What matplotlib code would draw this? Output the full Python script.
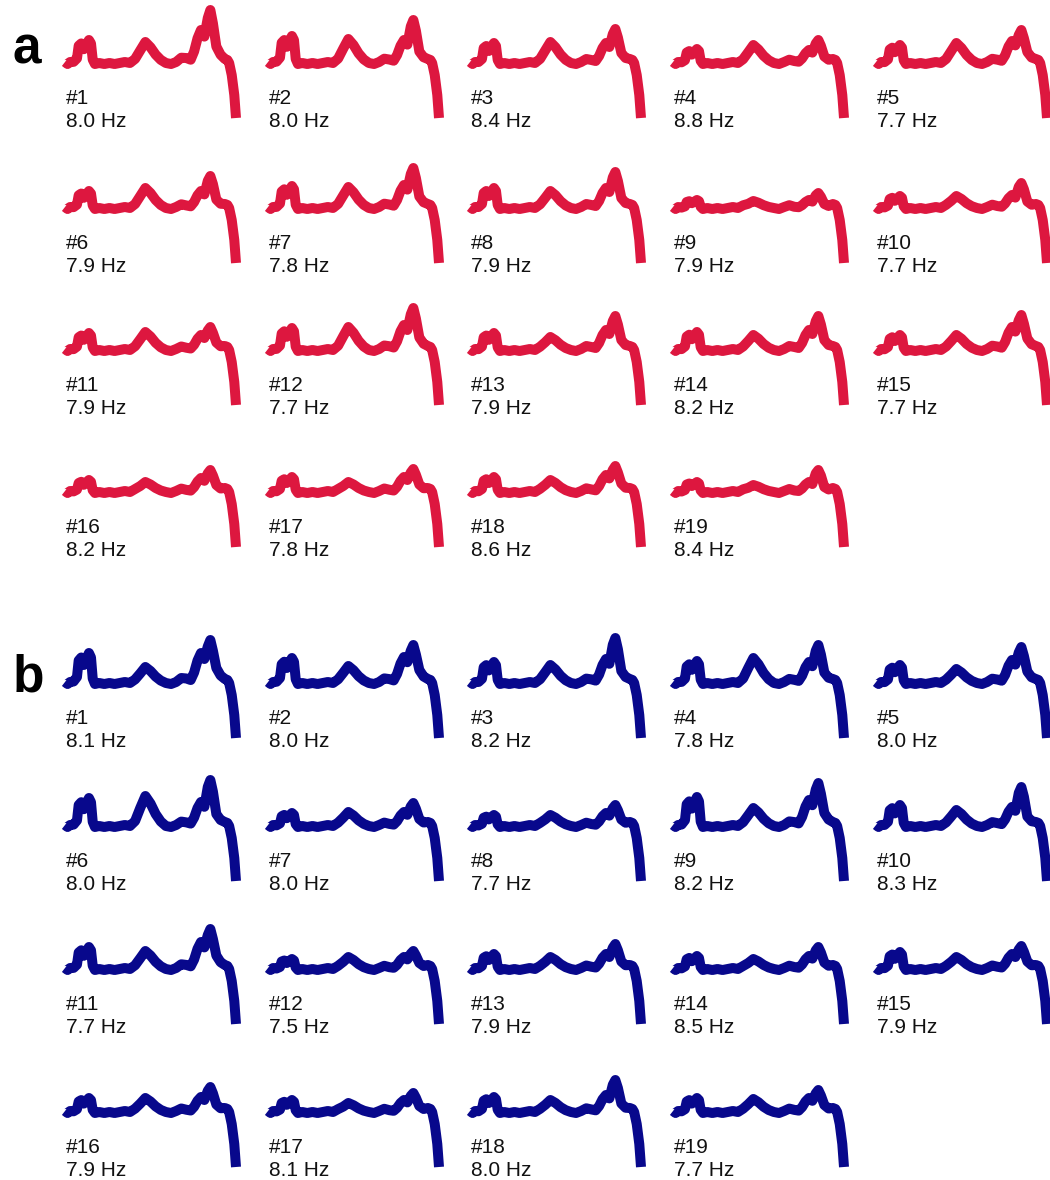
import numpy as np
import matplotlib
matplotlib.use("Agg")
import matplotlib.pyplot as plt

plt.rcParams['font.family'] = ['Liberation Sans', 'DejaVu Sans']

W, H = 1050, 1180

# peak heights (px above the flat part) read per trace: first peak, middle peak,
# shoulder before the main peak, main peak
a_p1 = [23, 27, 20, 14, 18, 17, 22, 20, 8, 12, 17, 22, 17, 18, 15, 12, 15, 15, 10]
a_p2 = [21, 24, 21, 18, 20, 20, 21, 17, 7, 12, 18, 23, 13, 15, 15, 10, 10, 12, 7]
a_sh = [33, 23, 20, 13, 22, 17, 23, 20, 8, 13, 15, 25, 20, 20, 23, 14, 15, 17, 10]
a_mx = [53, 43, 34, 23, 33, 32, 40, 36, 15, 25, 23, 42, 34, 34, 35, 22, 23, 26, 22]
a_hz = [8.0, 8.0, 8.4, 8.8, 7.7, 7.9, 7.8, 7.9, 7.9, 7.7,
        7.9, 7.7, 7.9, 8.2, 7.7, 8.2, 7.8, 8.6, 8.4]

b_p1 = [30, 25, 21, 22, 18, 28, 13, 11, 29, 21, 22, 10, 15, 13, 17, 14, 12, 15, 14]
b_p2 = [16, 17, 18, 25, 14, 30, 14, 11, 18, 16, 18, 12, 12, 10, 12, 14, 9, 12, 13]
b_sh = [30, 26, 24, 21, 23, 24, 14, 13, 26, 19, 27, 12, 15, 13, 15, 15, 12, 17, 14]
b_mx = [43, 38, 45, 38, 36, 46, 23, 21, 43, 39, 40, 18, 25, 22, 23, 25, 19, 32, 22]
b_hz = [8.1, 8.0, 8.2, 7.8, 8.0, 8.0, 8.0, 7.7, 8.2, 8.3,
        7.7, 7.5, 7.9, 8.5, 7.9, 7.9, 8.1, 8.0, 7.7]

# common trace outline: x position, offset, share of p1, p2, shoulder, main peak
shape = np.array([
    (0.00, 1, 0, 0, 0, 0),
    (0.015, -1, 0, 0, 0, 0),
    (0.03, 1, 0, 0, 0, 0),
    (0.05, 0, 0.05, 0, 0, 0),
    (0.07, 0, 0.2, 0, 0, 0),
    (0.08, 0, 0.75, 0, 0, 0),
    (0.095, 0, 0.85, 0, 0, 0),
    (0.11, 0, 0.6, 0, 0, 0),
    (0.125, 0, 0.8, 0, 0, 0),
    (0.14, 0, 1.0, 0, 0, 0),
    (0.152, 0, 0.85, 0, 0, 0),
    (0.162, 0, 0.15, 0, 0, 0),
    (0.175, -1, 0, 0, 0, 0),
    (0.20, 0, 0, 0, 0, 0),
    (0.23, -1, 0, 0, 0, 0),
    (0.26, 0, 0, 0, 0, 0),
    (0.29, -1, 0, 0, 0, 0),
    (0.32, 0, 0, 0, 0, 0),
    (0.35, 1, 0, 0, 0, 0),
    (0.38, 0, 0, 0, 0, 0),
    (0.41, 2, 0, 0.1, 0, 0),
    (0.44, 0, 0, 0.6, 0, 0),
    (0.47, 0, 0, 1.0, 0, 0),
    (0.50, 0, 0, 0.75, 0, 0),
    (0.53, 0, 0, 0.4, 0, 0),
    (0.56, 0, 0, 0.15, 0, 0),
    (0.59, 0, 0, 0, 0, 0),
    (0.62, -1, 0, 0, 0, 0),
    (0.65, 1, 0, 0, 0, 0),
    (0.68, 2, 0, 0, 0.1, 0),
    (0.71, 0, 0, 0, 0.15, 0),
    (0.735, 0, 0, 0, 0.1, 0),
    (0.755, 0, 0, 0, 0.35, 0),
    (0.775, 0, 0, 0, 0.75, 0),
    (0.795, 0, 0, 0, 1.0, 0),
    (0.815, 0, 0, 0, 0.8, 0),
    (0.835, 0, 0, 0, 0, 0.85),
    (0.85, 0, 0, 0, 0, 1.0),
    (0.865, 0, 0, 0, 0, 0.75),
    (0.885, 0, 0, 0, 0.5, 0),
    (0.91, 0, 0, 0, 0.25, 0),
    (0.935, 4, 0, 0, 0, 0),
    (0.95, 3, 0, 0, 0, 0),
    (0.96, 0, 0, 0, 0, 0),
    (0.975, -12, 0, 0, 0, 0),
    (0.99, -32, 0, 0, 0, 0),
    (1.00, -55, 0, 0, 0, 0),
])

col_x = [65, 268, 470, 673, 876]
rows_a = [63, 208, 350, 492]
rows_b = [683, 826, 969, 1112]

fig = plt.figure(figsize=(W / 100, H / 100), dpi=100)


def draw_panel(rows, p1, p2, sh, mx, hz, color):
    for i in range(len(hz)):
        r, c = divmod(i, 5)
        x0 = col_x[c]
        yb = rows[r]
        ax = fig.add_axes([x0 / W, 1 - (yb + 58) / H, 171 / W, 116 / H])
        y = shape[:, 1] + shape[:, 2] * p1[i] + shape[:, 3] * p2[i] \
            + shape[:, 4] * sh[i] + shape[:, 5] * mx[i]
        ax.plot(shape[:, 0], y, color=color, lw=7.2, clip_on=False,
                solid_joinstyle='round', solid_capstyle='butt')
        ax.set_xlim(0, 1)
        ax.set_ylim(-58, 58)
        ax.axis('off')
        fig.text((x0 + 1) / W, 1 - (yb + 41) / H, '#%d' % (i + 1),
                 fontsize=15, va='baseline', ha='left', color='#111111')
        fig.text((x0 + 1) / W, 1 - (yb + 64) / H, '%.1f Hz' % hz[i],
                 fontsize=15, va='baseline', ha='left', color='#111111')


draw_panel(rows_a, a_p1, a_p2, a_sh, a_mx, a_hz, '#DD173F')
draw_panel(rows_b, b_p1, b_p2, b_sh, b_mx, b_hz, '#08088C')

fig.text(13 / W, 1 - 63 / H, 'a', fontsize=37, fontweight='bold', va='baseline')
fig.text(13 / W, 1 - 691 / H, 'b', fontsize=37, fontweight='bold', va='baseline')

fig.savefig('out.png', dpi=100)
